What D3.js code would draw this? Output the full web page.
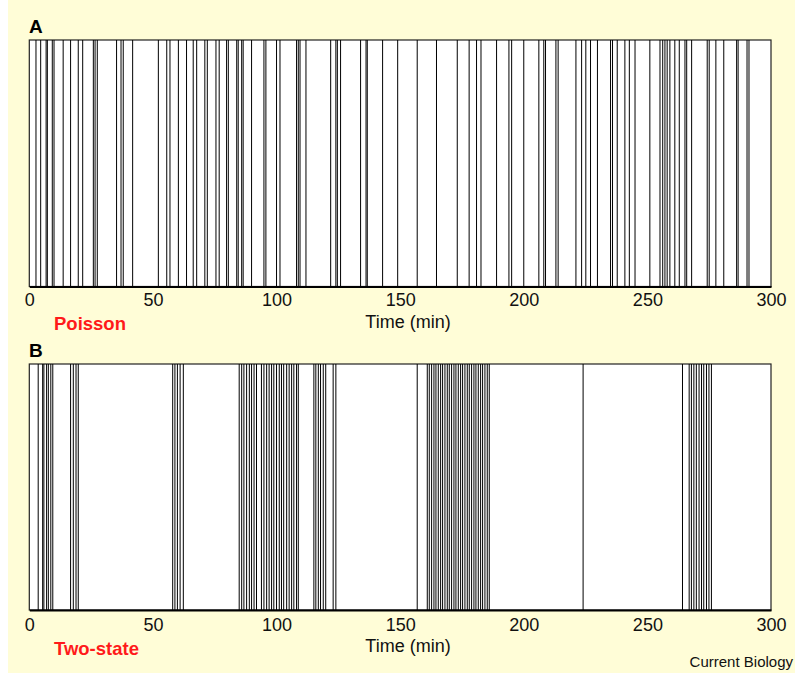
<!DOCTYPE html>
<html><head><meta charset="utf-8">
<script src="https://cdn.jsdelivr.net/npm/d3@7"></script>
<style>body{margin:0;background:#fff}svg{display:block}text{font-family:"Liberation Sans",Arial,sans-serif}</style>
</head><body>
<script>
const poissonTimes = [2.7,4.6,6.8,7.3,9.3,10.0,13.7,16.7,19.8,21.6,25.9,26.6,27.5,35.3,37.1,38.0,41.8,52.2,55.6,56.9,60.3,63.6,66.3,67.7,71.0,72.0,75.5,76.8,79.8,80.5,83.9,84.5,85.9,86.5,89.9,94.9,95.7,100.0,101.4,108.1,108.8,109.5,111.9,121.9,124.0,124.6,125.9,134.0,136.2,136.7,142.9,149.0,156.9,164.7,173.1,177.9,180.9,182.7,189.0,194.0,195.1,200.0,206.1,208.1,208.8,213.0,213.9,221.1,223.4,225.1,227.0,229.8,235.1,235.9,237.8,240.9,242.7,245.0,251.0,255.1,256.2,257.1,258.0,259.1,261.1,262.9,265.2,265.9,267.9,274.2,275.0,277.7,280.9,286.1,286.7,290.3,291.1];
const twoStateTimes = [3.6,5.4,5.9,7.0,7.7,8.7,9.5,16.7,17.8,18.9,19.8,58.0,58.9,59.9,61.0,62.3,
84.9,85.9,86.8,87.9,89.0,89.9,90.9,91.9,93.9,94.9,96.0,97.0,98.0,98.9,100.0,101.1,102.0,102.9,104.1,105.1,106.1,107.0,108.1,108.8,
115.1,115.9,116.9,117.8,118.9,119.9,122.9,124.0,156.9,
160.97,161.78,162.73,163.67,164.48,165.42,166.37,167.17,168.12,169.06,169.87,170.81,171.76,172.56,173.51,174.45,175.26,176.20,177.15,177.96,178.90,179.84,180.65,181.60,182.54,183.35,184.29,185.23,186.04,
224.0,264.2,266.9,267.8,268.8,269.8,270.9,271.9,272.8,273.9,274.9,275.9];
const tickValues = [0,50,100,150,200,250,300];
const xTitle = "Time (min)";
const panels = [
  {letter:"A", label:"Poisson", data:poissonTimes, top:40, bottom:286.5, pad:7, titleY:328, labelY:330},
  {letter:"B", label:"Two-state", data:twoStateTimes, top:364, bottom:610, pad:8, titleY:652, labelY:655}
];

const W=795,H=673;
const svg=d3.select("body").append("svg").attr("width",W).attr("height",H);
svg.append("rect").attr("x",8).attr("y",0).attr("width",W-8).attr("height",H).attr("fill","#FFFDD7");
const x=d3.scaleLinear().domain([0,300]).range([29.3,771]);

panels.forEach(p=>{
  const g=svg.append("g");
  g.append("rect").attr("x",x(0)).attr("y",p.top).attr("width",x(300)-x(0)).attr("height",p.bottom-p.top)
    .attr("fill","#fff").attr("stroke","#222").attr("stroke-width",1.2);
  g.selectAll("line.ev").data(p.data).enter().append("line").attr("class","ev")
    .attr("x1",d=>x(d)).attr("x2",d=>x(d)).attr("y1",p.top).attr("y2",p.bottom)
    .attr("stroke","#000").attr("stroke-width",1);
  const ax=g.append("g").attr("transform",`translate(0,${p.bottom})`)
    .call(d3.axisBottom(x).tickValues(tickValues).tickSize(0).tickPadding(p.pad).tickFormat(d3.format("d")));
  ax.select(".domain").attr("stroke","#000").attr("stroke-width",2);
  ax.selectAll("text").attr("font-size",18).attr("fill","#111").style("font-family",'"Liberation Sans",Arial,sans-serif');
  g.append("text").attr("x",408).attr("y",p.titleY).attr("text-anchor","middle").attr("font-size",18).attr("fill","#111").text(xTitle);
  g.append("text").attr("x",29).attr("y",p.top-7).attr("font-size",19).attr("font-weight","bold").attr("fill","#000").text(p.letter);
  g.append("text").attr("x",54).attr("y",p.labelY).attr("font-size",18.5).attr("font-weight","bold").attr("fill","#FF1A1A").text(p.label);
});
svg.append("text").attr("x",793).attr("y",667).attr("text-anchor","end").attr("font-size",15).attr("fill","#111").text("Current Biology");
</script>
</body></html>
